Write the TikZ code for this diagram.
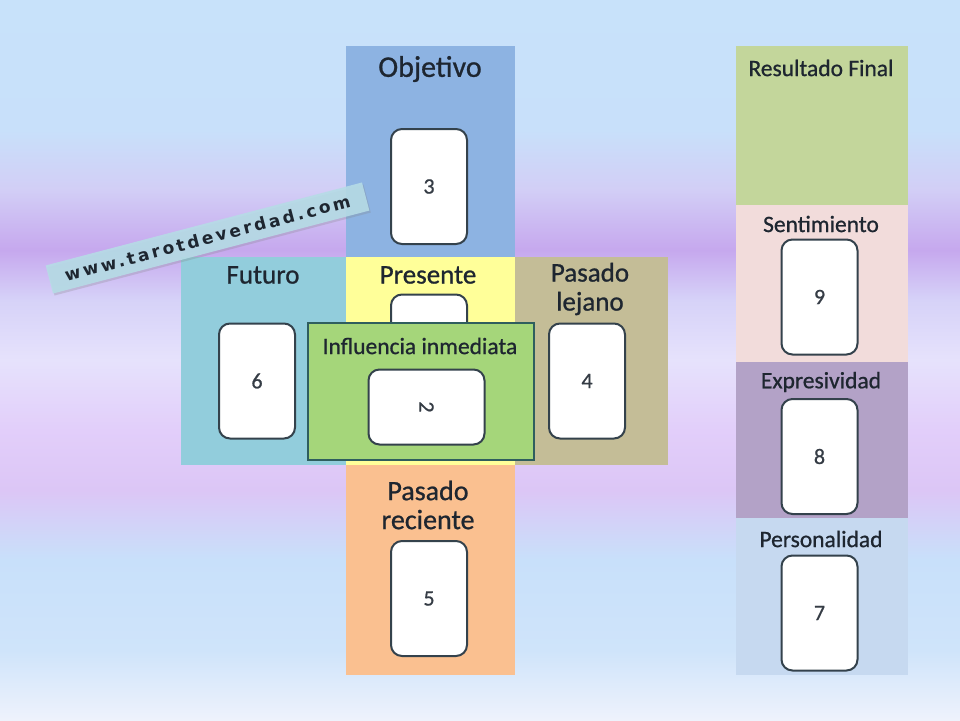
\documentclass[tikz,border=0pt]{standalone}
\usepackage{fontspec}
\setmainfont{Carlito}[FakeBold=0.8]
\newfontfamily\wmfont[LetterSpace=17]{DejaVu Sans}
\usetikzlibrary{shadows}
\definecolor{bgA}{HTML}{C8E2FA}
\definecolor{bgB}{HTML}{C8E0FA}
\definecolor{bgC}{HTML}{D2CEF6}
\definecolor{bgD}{HTML}{C6A8EE}
\definecolor{bgE}{HTML}{D6D2F8}
\definecolor{bgF}{HTML}{E6E2FC}
\definecolor{bgG}{HTML}{E2CEFA}
\definecolor{bgH}{HTML}{DCC6F6}
\definecolor{bgI}{HTML}{C8E0FA}
\definecolor{bgJ}{HTML}{CFE4FA}
\definecolor{bgK}{HTML}{EEF2FC}
\pgfdeclareverticalshading{bgshade}{100bp}{color(0bp)=(bgK); color(25bp)=(bgK); color(29.86bp)=(bgJ); color(36.11bp)=(bgI); color(40.97bp)=(bgH); color(45.14bp)=(bgG); color(50bp)=(bgF); color(54.17bp)=(bgE); color(57.64bp)=(bgD); color(61.81bp)=(bgC); color(65.97bp)=(bgB); color(75bp)=(bgA); color(100bp)=(bgA)}
\definecolor{cObj}{HTML}{8DB3E2}
\definecolor{cFut}{HTML}{92CDDC}
\definecolor{cPre}{HTML}{FFFF99}
\definecolor{cLej}{HTML}{C4BD97}
\definecolor{cRec}{HTML}{FAC090}
\definecolor{cInf}{HTML}{A5D67A}
\definecolor{cInfB}{HTML}{2F5E5E}
\definecolor{cRes}{HTML}{C3D69B}
\definecolor{cSen}{HTML}{F2DCDB}
\definecolor{cExp}{HTML}{B3A2C7}
\definecolor{cPer}{HTML}{C6D9F0}
\definecolor{cWm}{HTML}{B6DCE6}
\definecolor{txt}{HTML}{1E2630}
\definecolor{cardB}{HTML}{34424C}
\begin{document}
\begin{tikzpicture}[x=1pt,y=-1pt,
  region/.style={inner sep=0pt, outer sep=0pt},
  card/.style={draw=cardB, line width=2pt, fill=white, rounded corners=11pt, minimum width=76pt, minimum height=115pt, inner sep=0pt},
  num/.style={font=\fontsize{22}{23}\selectfont, text=txt!90},
  biglab/.style={font=\fontsize{28}{29}\selectfont, text=txt, align=center, inner sep=0pt},
  midlab/.style={font=\fontsize{27}{29}\selectfont, text=txt, align=center, inner sep=0pt},
  smalllab/.style={font=\fontsize{23.5}{25}\selectfont, text=txt, inner sep=0pt}]
\useasboundingbox (0,0) rectangle (960,720);
\shade[shading=bgshade] (0,0) rectangle (960,720);
% cross regions
\node[region, fill=cObj, minimum width=169pt, minimum height=211pt] (obj) at (430.5,151.5) {};
\node[region, fill=cFut, minimum width=165pt, minimum height=208pt] (fut) at (263.5,361) {};
\node[region, fill=cPre, minimum width=169pt, minimum height=208pt] (pre) at (430.5,361) {};
\node[region, fill=cLej, minimum width=153pt, minimum height=208pt] (lej) at (591.5,361) {};
\node[region, fill=cRec, minimum width=169pt, minimum height=210pt] (rec) at (430.5,570) {};
% right column
\node[region, fill=cRes, minimum width=172pt, minimum height=159pt] (res) at (822,125.5) {};
\node[region, fill=cSen, minimum width=172pt, minimum height=157pt] (sen) at (822,283.5) {};
\node[region, fill=cExp, minimum width=172pt, minimum height=156pt] (exp) at (822,440) {};
\node[region, fill=cPer, minimum width=172pt, minimum height=157pt] (per) at (822,596.5) {};
% labels
\node[biglab, font=\fontsize{30}{31}\selectfont] (lobj) at (430,69) {Objetivo};
\node[midlab] (lfut) at (263,275) {Futuro};
\node[midlab] (lpre) at (428,275) {Presente};
\node[midlab] (llej) at (590,289) {Pasado\\lejano};
\node[biglab] (lrec) at (428,505) {Pasado\\reciente};
\node[smalllab] (lres) at (821,68) {Resultado Final};
\node[smalllab] (lsen) at (821,224) {Sentimiento};
\node[smalllab] (lexp) at (821,382) {Expresividad};
\node[smalllab] (lper) at (821,539) {Personalidad};
% cards
\node[card] (c3) at (429,186.5) {};
\node[num] (n3) at (c3.center) {3};
\node[card] (c1) at (429,352) {};
\node[card] (c6) at (257,381) {};
\node[num] (n6) at (c6.center) {6};
\node[card] (c4) at (587,381) {};
\node[num] (n4) at (c4.center) {4};
\node[card] (c5) at (429,598.5) {};
\node[num] (n5) at (c5.center) {5};
\node[card] (c9) at (819.5,297) {};
\node[num] (n9) at (c9.center) {9};
\node[card] (c8) at (819.5,456.5) {};
\node[num] (n8) at (c8.center) {8};
\node[card] (c7) at (819.5,613) {};
\node[num] (n7) at (c7.center) {7};
% influencia inmediata
\node[region, fill=cInf, draw=cInfB, line width=2pt, minimum width=226pt, minimum height=137pt] (inf) at (421,391.5) {};
\node[smalllab, text=txt] (linf) at (420,346) {Influencia inmediata};
\node[card, minimum width=116pt, minimum height=75pt] (c2) at (426.5,407) {};
\node[num, rotate=-90] (n2) at (c2.center) {2};
% watermark
\node[fill=cWm, fill opacity=0.9, text opacity=1, rotate=14.7, minimum width=327pt, minimum height=29pt, inner sep=0pt,
  drop shadow={opacity=0.25, shadow xshift=1.5pt, shadow yshift=-2pt}, font=\wmfont\bfseries\fontsize{17}{18}\selectfont, text=txt] (wm) at (207.5,238) {www.tarotdeverdad.com};
\end{tikzpicture}
\end{document}
